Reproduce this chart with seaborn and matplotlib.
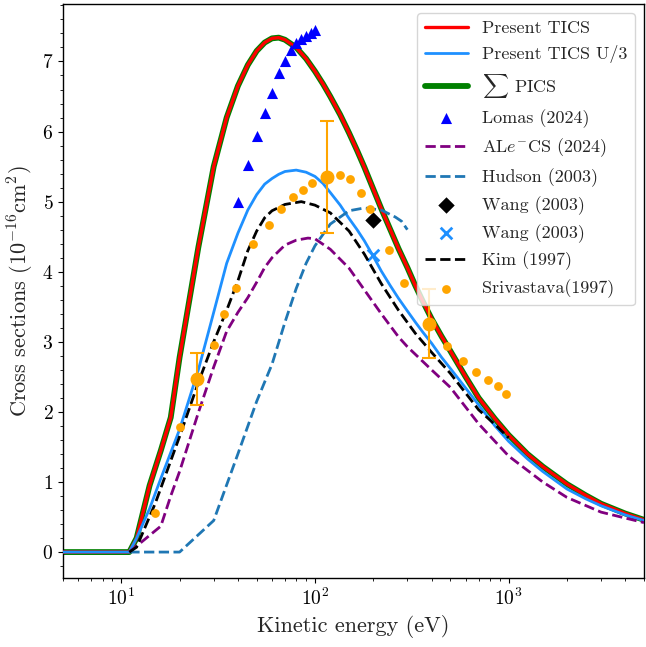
import matplotlib
matplotlib.use("Agg")
import matplotlib.pyplot as plt
import seaborn as sns
from matplotlib.ticker import AutoMinorLocator

# ---------------- data (energies in eV, cross sections in 1e-16 cm^2) ----------------
energy_tics = [5, 11, 12, 14, 16, 18, 20, 25, 30, 35, 40, 45, 50, 55, 60, 65, 70, 80, 90,
               100, 110, 120, 135, 150, 165, 180, 200, 220, 245, 270, 300, 330, 360, 400,
               450, 500, 600, 700, 850, 1000, 1250, 1500, 2000, 2500, 3000, 4000, 5000]
tics = [0, 0, 0.2, 0.95, 1.45, 1.92, 2.78, 4.35, 5.5, 6.2, 6.65, 6.95, 7.15, 7.27, 7.33,
        7.34, 7.31, 7.2, 7.04, 6.86, 6.68, 6.5, 6.24, 5.98, 5.73, 5.49, 5.18, 4.9, 4.6,
        4.33, 4.06, 3.8, 3.58, 3.33, 3.08, 2.87, 2.5, 2.2, 1.9, 1.67, 1.4, 1.22, 0.97,
        0.81, 0.69, 0.55, 0.46]
pics_sum = [0, 0, 0.2, 0.95, 1.45, 1.92, 2.78, 4.35, 5.5, 6.2, 6.65, 6.95, 7.15, 7.27, 7.33,
            7.34, 7.31, 7.2, 7.04, 6.86, 6.68, 6.5, 6.24, 5.98, 5.73, 5.49, 5.18, 4.9, 4.6,
            4.33, 4.06, 3.8, 3.58, 3.33, 3.08, 2.87, 2.5, 2.2, 1.9, 1.67, 1.4, 1.22, 0.97,
            0.81, 0.69, 0.55, 0.46]
tics_u3 = [0, 0, 0.2, 0.62, 1.05, 1.42, 1.75, 2.6, 3.42, 4.12, 4.55, 4.88, 5.1, 5.25, 5.33,
           5.39, 5.43, 5.45, 5.42, 5.36, 5.26, 5.13, 4.95, 4.76, 4.6, 4.44, 4.22, 4.01, 3.8,
           3.62, 3.44, 3.28, 3.14, 2.98, 2.78, 2.62, 2.34, 2.1, 1.8, 1.58, 1.33, 1.15, 0.9,
           0.76, 0.66, 0.53, 0.45]

energy_alecs = [11, 16, 18, 20, 25, 30, 35, 40, 45, 50, 55, 60, 70, 80, 92, 100, 120, 150,
                180, 220, 270, 300, 400, 500, 700, 1000, 1500, 2000, 3000, 5000]
alecs = [0, 0.37, 0.8, 1.15, 1.99, 2.64, 3.15, 3.42, 3.63, 3.85, 4.06, 4.2, 4.38, 4.45,
         4.48, 4.47, 4.32, 4.05, 3.74, 3.4, 3.07, 2.93, 2.6, 2.35, 1.83, 1.37, 1.0, 0.78,
         0.57, 0.42]

energy_hudson = [11, 20, 30, 40, 50, 60, 70, 80, 90, 100, 120, 150, 180, 220, 260, 280, 300]
hudson = [0, 0, 0.45, 1.4, 2.15, 2.68, 3.28, 3.76, 4.12, 4.37, 4.68, 4.87, 4.91, 4.88,
          4.78, 4.72, 4.6]

energy_kim = [11, 12, 15, 20, 25, 30, 35, 40, 45, 50, 55, 60, 70, 85, 100, 120, 150, 180,
              220, 270, 330, 400, 500, 700, 850, 1000]
kim = [0, 0.07, 0.7, 1.65, 2.42, 3.0, 3.45, 3.87, 4.3, 4.58, 4.77, 4.87, 4.96, 5.0, 4.95,
       4.84, 4.58, 4.25, 3.83, 3.45, 3.12, 2.85, 2.55, 2.03, 1.82, 1.63]

energy_lomas = [40, 45, 50, 55, 60, 65, 70, 75, 80, 85, 90, 95, 100]
lomas = [5.0, 5.52, 5.93, 6.27, 6.55, 6.83, 7.01, 7.17, 7.26, 7.32, 7.37, 7.41, 7.45]

energy_wang = [200]
wang_diamond = [4.74]
wang_cross = [4.24]

energy_sriv = [15, 20, 30, 34, 39, 48, 58, 67, 77, 87, 96, 134, 152, 172, 193, 240,
               287, 483, 580, 680, 780, 880, 965]
sriv = [0.56, 1.78, 2.96, 3.40, 3.77, 4.4, 4.67, 4.89, 5.07, 5.17, 5.26, 5.38, 5.32,
        5.13, 4.89, 4.31, 3.84, 2.94, 2.73, 2.57, 2.46, 2.37, 2.26]

energy_sriv_err = [24.5, 116, 388]
sriv_err_val = [2.47, 5.35, 3.26]
sriv_err = [0.37, 0.80, 0.49]

# ---------------- style ----------------
sns.set_style("ticks")
plt.rcParams.update({
    "font.family": "serif",
    "font.serif": ["cmr10"],
    "mathtext.fontset": "cm",
    "axes.formatter.use_mathtext": True,
    "axes.unicode_minus": False,
    "axes.edgecolor": "black",
    "axes.linewidth": 1.0,
    "xtick.color": "black",
    "ytick.color": "black",
})

fig = plt.figure(figsize=(6.46, 6.47), dpi=100)
ax = fig.add_axes([63 / 646, 1 - 578 / 647, (644 - 63) / 646, (578 - 4) / 647])

handles = {}

sns.lineplot(x=energy_tics, y=pics_sum, ax=ax, color="green", linewidth=4.2,
             zorder=2, legend=False)
handles["pics"] = ax.lines[-1]
sns.lineplot(x=energy_tics, y=tics, ax=ax, color="red", linewidth=2.4,
             zorder=3, legend=False)
handles["tics"] = ax.lines[-1]
sns.lineplot(x=energy_tics, y=tics_u3, ax=ax, color="dodgerblue", linewidth=2.0,
             zorder=3, legend=False)
handles["u3"] = ax.lines[-1]
sns.lineplot(x=energy_alecs, y=alecs, ax=ax, color="purple", linewidth=2.0,
             linestyle="--", zorder=3, legend=False)
handles["alecs"] = ax.lines[-1]
sns.lineplot(x=energy_hudson, y=hudson, ax=ax, color="tab:blue", linewidth=2.0,
             linestyle="--", zorder=3, legend=False)
handles["hudson"] = ax.lines[-1]
sns.lineplot(x=energy_kim, y=kim, ax=ax, color="black", linewidth=2.0,
             linestyle="--", zorder=3, legend=False)
handles["kim"] = ax.lines[-1]

sns.scatterplot(x=energy_wang, y=wang_cross, ax=ax, color="dodgerblue", marker="x",
                s=70, linewidth=2.0, zorder=2, legend=False)
handles["wang_x"] = ax.collections[-1]
sns.scatterplot(x=energy_lomas, y=lomas, ax=ax, color="blue", marker="^",
                s=64, linewidth=0, zorder=4, legend=False)
handles["lomas"] = ax.collections[-1]
sns.scatterplot(x=energy_wang, y=wang_diamond, ax=ax, color="black", marker="D",
                s=70, linewidth=0, zorder=4, legend=False)
handles["wang_d"] = ax.collections[-1]
sns.scatterplot(x=energy_sriv, y=sriv, ax=ax, color="orange", marker="o",
                s=40, linewidth=0, zorder=4, legend=False)
handles["sriv"] = ax.collections[-1]
ax.errorbar(energy_sriv_err, sriv_err_val, yerr=sriv_err, fmt="o", color="orange",
            ms=9, capsize=5, elinewidth=1.5, capthick=1.5, zorder=5)

ax.set_xscale("log")
ax.set_xlim(5, 5000)
ax.set_ylim(-0.37, 7.82)
ax.yaxis.set_minor_locator(AutoMinorLocator(5))
ax.tick_params(which="both", direction="out", top=False, right=False, labelsize=14)
for side in ["top", "right", "left", "bottom"]:
    ax.spines[side].set_visible(True)

ax.set_xlabel("Kinetic energy (eV)", fontsize=16)
ax.set_ylabel(r"Cross sections $(10^{-16}$cm$^2)$", fontsize=16)

order = ["tics", "u3", "pics", "lomas", "alecs", "hudson", "wang_d", "wang_x", "kim", "sriv"]
labels = ["Present TICS", "Present TICS U/3", r"$\sum$ PICS", "Lomas (2024)",
          r"AL$e^{-}$CS (2024)", "Hudson (2003)", "Wang (2003)", "Wang (2003)",
          "Kim (1997)", "Srivastava(1997)"]
ax.legend([handles[k] for k in order], labels, loc="upper right", fontsize=13,
          handlelength=2.4)

fig.savefig("out.png", dpi=100)
